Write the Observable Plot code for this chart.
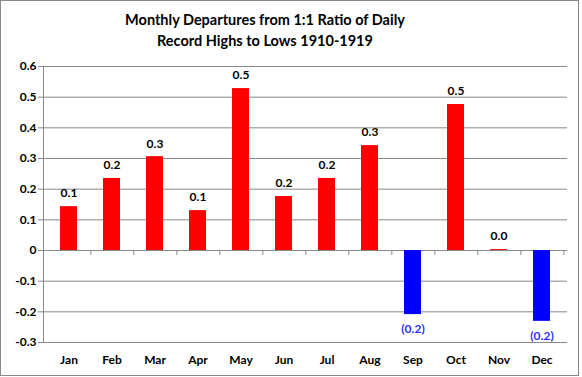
<!DOCTYPE html>
<html>
<head>
<meta charset="utf-8">
<script src="https://cdn.jsdelivr.net/npm/d3@7"></script>
<script src="https://cdn.jsdelivr.net/npm/@observablehq/plot@0.6"></script>
<style>
  html, body { margin: 0; padding: 0; background: #fff; }
  #wrap { position: relative; width: 582px; height: 377px; overflow: hidden; font-family: Lato, "Open Sans", sans-serif; }
  #border { position: absolute; left: 0; top: 0; width: 577px; height: 374px; border: 1px solid #888; }
  #title { position: absolute; left: 0; width: 530px; top: 9px; text-align: center; font-weight: bold; font-size: 14.5px; line-height: 21px; color: #000; }
  #chart { position: absolute; left: 0; top: 0; }
</style>
</head>
<body>
<div id="wrap">
  <div id="border"></div>
  <div id="title">Monthly Departures from 1:1 Ratio of Daily<br>Record Highs to Lows 1910-1919</div>
  <div id="chart"></div>
</div>
<script>
const months = ["Jan","Feb","Mar","Apr","May","Jun","Jul","Aug","Sep","Oct","Nov","Dec"];
const values = [0.143, 0.235, 0.306, 0.130, 0.528, 0.176, 0.235, 0.342, -0.209, 0.476, 0.003, -0.231];
const yTicks = [-0.3, -0.2, -0.1, 0, 0.1, 0.2, 0.3, 0.4, 0.5, 0.6];

const data = months.map((m, i) => ({month: m, value: values[i]}));
const fmt = d3.format(".1f");
const labelOf = v => v < 0 ? "(" + fmt(-v) + ")" : fmt(v);

const W = 582, H = 377, mL = 43, mR = 15, mT = 66, mB = 35;
const step = (W - mL - mR) / months.length;

const plot = Plot.plot({
  width: W, height: H,
  marginLeft: mL, marginRight: mR, marginTop: mT, marginBottom: mB,
  style: {background: "transparent", fontFamily: "Lato, sans-serif", fontSize: "12px", fontWeight: "bold", color: "#000"},
  x: {domain: months, paddingInner: 0.61, paddingOuter: 0.305, align: 0.5, label: null},
  y: {domain: [-0.3, 0.6], label: null},
  marks: [
    Plot.ruleY(yTicks, {stroke: "#878787", strokeWidth: 1}),
    Plot.frame({anchor: "left", stroke: "#878787"}),
    Plot.barY(data, {x: "month", y: "value", fill: d => d.value < 0 ? "#0000ff" : "#ff0000"}),
    Plot.ruleX(months, {x: d => d, y1: 0, y2: 0, insetBottom: -5, dx: step / 2, stroke: "#878787"}),
    Plot.text(data.filter(d => d.value >= 0), {x: "month", y: "value", text: d => labelOf(d.value), dy: -13, lineAnchor: "middle", fill: "#000", fontSize: 12, fontWeight: "bold"}),
    Plot.text(data.filter(d => d.value < 0), {x: "month", y: "value", text: d => labelOf(d.value), dy: 15, lineAnchor: "middle", fill: "#3030ff", fontSize: 12, fontWeight: "bold"}),
    Plot.axisY({ticks: yTicks, tickFormat: d => String(d), tickSize: 5, tickPadding: 2, stroke: "#878787", fill: "#000", fontSize: 12, fontWeight: "bold"}),
    Plot.axisX({tickSize: 0, tickPadding: 13, fill: "#000", fontSize: 12, fontWeight: "bold"})
  ]
});
document.getElementById("chart").appendChild(plot);
</script>
</body>
</html>
